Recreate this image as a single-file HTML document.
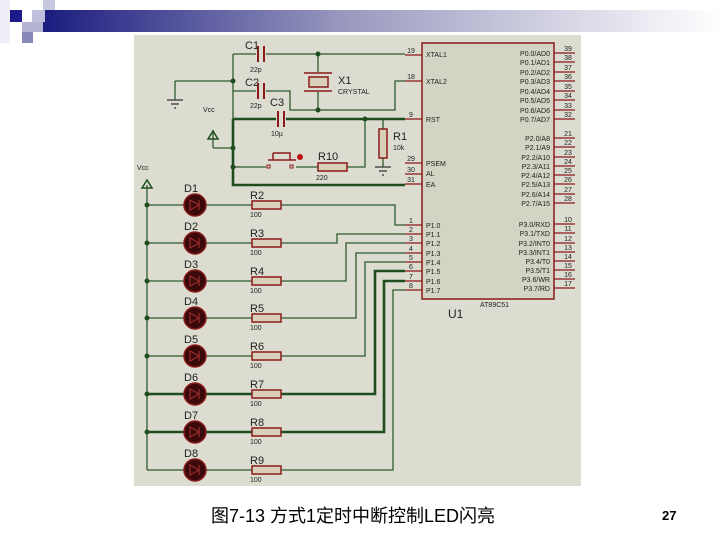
<!DOCTYPE html>
<html><head><meta charset="utf-8"><style>
html,body{margin:0;padding:0;background:#fff;width:720px;height:540px;overflow:hidden}
svg{display:block}
text{font-family:"Liberation Sans",sans-serif}
</style></head><body>
<svg width="720" height="540" viewBox="0 0 720 540" xmlns="http://www.w3.org/2000/svg">
<defs>
<linearGradient id="g" x1="0" x2="1" y1="0" y2="0">
<stop offset="0" stop-color="#1c1c80"/><stop offset="0.45" stop-color="#9a9ac0"/><stop offset="1" stop-color="#ffffff"/>
</linearGradient>
<g id="row"><circle cx="195" cy="0" r="11" fill="#3a0a0a" stroke="#8b1a1a" stroke-width="1.5"/><path d="M190 -5V5L199 0Z M199 -5V5" fill="none" stroke="#a33" stroke-width="1"/><rect x="252" y="-4" width="29" height="8" fill="#d8d0b8" stroke="#8b1a1a" stroke-width="1.5"/></g>
</defs>
<rect x="0" y="0" width="10" height="43" fill="#eeeef6"/>
<rect x="43" y="0" width="12" height="10" fill="#c8c8e0"/>
<rect x="43" y="10" width="677" height="22" fill="url(#g)"/>
<rect x="10" y="10" width="12" height="12" fill="#1a1a88"/>
<rect x="32" y="10" width="13" height="12" fill="#c0c0dc"/>
<rect x="22" y="22" width="21" height="10" fill="#b4b4d4"/>
<rect x="22" y="32" width="11" height="11" fill="#8888b8"/>

<rect x="134" y="35" width="447" height="451" fill="#dcdcd0"/>
<g fill="none" stroke="#2d5a2d" stroke-width="1.3">
<path d="M233 54H405M233 54V119M175 81H233M175 81V100M233 91H290V110H395V81H405"/>
<path d="M318 54V110"/>
<path d="M383 119V167M233 167H365V119M213 148H233M213 148V130"/>
<path d="M147 185V470"/>
<path d="M147 205H395V225H405M147 243H337V234H405M147 281H346V243H405M147 318H356V253H405M147 356H365V262H405M147 470H393V290H405"/>
</g>
<g fill="none" stroke="#1e4e1e" stroke-width="2.6">
<path d="M233 119H405M233 119V185H405M147 394H375V271H405M147 432H384V281H405"/>
</g>
<g fill="#1e4e1e"><circle cx="318" cy="54" r="2.5"/><circle cx="318" cy="110" r="2.5"/><circle cx="233" cy="81" r="2.5"/><circle cx="233" cy="148" r="2.5"/><circle cx="233" cy="167" r="2.5"/><circle cx="365" cy="119" r="2.5"/>
<circle cx="147" cy="205" r="2.5"/><circle cx="147" cy="243" r="2.5"/><circle cx="147" cy="281" r="2.5"/><circle cx="147" cy="318" r="2.5"/><circle cx="147" cy="356" r="2.5"/><circle cx="147" cy="394" r="2.5"/><circle cx="147" cy="432" r="2.5"/></g>
<rect x="256" y="50" width="10" height="8" fill="#dcdcd0"/><rect x="256" y="87" width="10" height="8" fill="#dcdcd0"/><rect x="276" y="115" width="10" height="8" fill="#dcdcd0"/>
<g stroke="#8b1a1a" stroke-width="2"><path d="M258 46V62M264 46V62M258 83V99M264 83V99M278 111V127M284 111V127"/></g>
<rect x="306" y="72" width="26" height="20" fill="#dcdcd0"/>
<path d="M304 73H332M304 91H332" stroke="#8b1a1a" stroke-width="1.5"/>
<rect x="309" y="77" width="19" height="10" fill="#d8d0b8" stroke="#8b1a1a" stroke-width="1.5"/>
<path d="M167 100H183M171 104H179M174 108H176M375 167H391M379 171H387M382 175H384" stroke="#333" stroke-width="1.2"/>
<path d="M213 131L208 139H218Z M147 180L142 188H152Z" fill="none" stroke="#1e4e1e" stroke-width="1.5"/>
<rect x="379" y="129" width="8" height="29" fill="#d8d0b8" stroke="#8b1a1a" stroke-width="1.5"/>
<rect x="266" y="160" width="30" height="12" fill="#dcdcd0"/>
<path d="M273 153H290V160M273 153V160M268 160H296" fill="none" stroke="#8b1a1a" stroke-width="1.5"/>
<rect x="267" y="165" width="3" height="3" fill="none" stroke="#8b1a1a"/><rect x="290" y="165" width="3" height="3" fill="none" stroke="#8b1a1a"/>
<circle cx="300" cy="157" r="3" fill="#c01010"/>
<rect x="318" y="163" width="29" height="8" fill="#d8d0b8" stroke="#8b1a1a" stroke-width="1.5"/>
<use href="#row" y="205"/><use href="#row" y="243"/><use href="#row" y="281"/><use href="#row" y="318"/><use href="#row" y="356"/><use href="#row" y="394"/><use href="#row" y="432"/><use href="#row" y="470"/>
<rect x="422" y="43" width="132" height="256" fill="#d4d4c4" stroke="#8b1a1a" stroke-width="1.5"/>
<g stroke="#8b1a1a" stroke-width="1.2">
<path d="M405 55H422M405 81H422M405 119H422M405 163H422M405 174H422M405 184H422"/>
<path d="M405 225H422M405 234H422M405 243H422M405 253H422M405 262H422M405 271H422M405 281H422M405 290H422"/>
<path d="M554 53H575M554 62H575M554 72H575M554 81H575M554 91H575M554 100H575M554 110H575M554 119H575"/>
<path d="M554 138H575M554 147H575M554 157H575M554 166H575M554 175H575M554 184H575M554 194H575M554 203H575"/>
<path d="M554 224H575M554 233H575M554 243H575M554 252H575M554 261H575M554 270H575M554 279H575M554 288H575"/>
</g>
<g font-size="7" fill="#222">
<text x="426" y="57">XTAL1</text><text x="426" y="84">XTAL2</text><text x="426" y="122">RST</text>
<text x="426" y="166">PSEM</text><text x="426" y="176">AL</text><text x="426" y="187">EA</text>
<text x="426" y="228">P1.0</text><text x="426" y="237">P1.1</text><text x="426" y="246">P1.2</text><text x="426" y="256">P1.3</text><text x="426" y="265">P1.4</text><text x="426" y="274">P1.5</text><text x="426" y="284">P1.6</text><text x="426" y="293">P1.7</text>
<g text-anchor="end"><text x="550" y="56">P0.0/AD0</text><text x="550" y="65">P0.1/AD1</text><text x="550" y="75">P0.2/AD2</text><text x="550" y="84">P0.3/AD3</text><text x="550" y="94">P0.4/AD4</text><text x="550" y="103">P0.5/AD5</text><text x="550" y="113">P0.6/AD6</text><text x="550" y="122">P0.7/AD7</text>
<text x="550" y="141">P2.0/A8</text><text x="550" y="150">P2.1/A9</text><text x="550" y="160">P2.2/A10</text><text x="550" y="169">P2.3/A11</text><text x="550" y="178">P2.4/A12</text><text x="550" y="187">P2.5/A13</text><text x="550" y="197">P2.6/A14</text><text x="550" y="206">P2.7/A15</text>
<text x="550" y="227">P3.0/RXD</text><text x="550" y="236">P3.1/TXD</text><text x="550" y="246">P3.2/INT0</text><text x="550" y="255">P3.3/INT1</text><text x="550" y="264">P3.4/T0</text><text x="550" y="273">P3.5/T1</text><text x="550" y="282">P3.6/WR</text><text x="550" y="291">P3.7/RD</text></g>
<g text-anchor="middle"><text x="411" y="53">19</text><text x="411" y="79">18</text><text x="411" y="117">9</text><text x="411" y="161">29</text><text x="411" y="172">30</text><text x="411" y="182">31</text>
<text x="411" y="223">1</text><text x="411" y="232">2</text><text x="411" y="241">3</text><text x="411" y="251">4</text><text x="411" y="260">5</text><text x="411" y="269">6</text><text x="411" y="279">7</text><text x="411" y="288">8</text>
<text x="568" y="51">39</text><text x="568" y="60">38</text><text x="568" y="70">37</text><text x="568" y="79">36</text><text x="568" y="89">35</text><text x="568" y="98">34</text><text x="568" y="108">33</text><text x="568" y="117">32</text>
<text x="568" y="136">21</text><text x="568" y="145">22</text><text x="568" y="155">23</text><text x="568" y="164">24</text><text x="568" y="173">25</text><text x="568" y="182">26</text><text x="568" y="192">27</text><text x="568" y="201">28</text>
<text x="568" y="222">10</text><text x="568" y="231">11</text><text x="568" y="241">12</text><text x="568" y="250">13</text><text x="568" y="259">14</text><text x="568" y="268">15</text><text x="568" y="277">16</text><text x="568" y="286">17</text></g>
<text x="480" y="307">AT89C51</text>
<text x="250" y="72">22p</text><text x="250" y="108">22p</text><text x="271" y="136">10µ</text><text x="338" y="94">CRYSTAL</text><text x="393" y="150">10k</text><text x="316" y="180">220</text>
<text x="203" y="112">Vcc</text><text x="137" y="170">Vcc</text>
<text x="250" y="217">100</text><text x="250" y="255">100</text><text x="250" y="293">100</text><text x="250" y="330">100</text><text x="250" y="368">100</text><text x="250" y="406">100</text><text x="250" y="444">100</text><text x="250" y="482">100</text>
</g>
<g font-size="11" fill="#222">
<text x="245" y="49">C1</text><text x="245" y="86">C2</text><text x="270" y="106">C3</text><text x="338" y="84">X1</text><text x="393" y="140">R1</text><text x="318" y="160">R10</text><text x="448" y="318" font-size="12">U1</text>
<text x="184" y="192">D1</text><text x="184" y="230">D2</text><text x="184" y="268">D3</text><text x="184" y="305">D4</text><text x="184" y="343">D5</text><text x="184" y="381">D6</text><text x="184" y="419">D7</text><text x="184" y="457">D8</text>
<text x="250" y="199">R2</text><text x="250" y="237">R3</text><text x="250" y="275">R4</text><text x="250" y="312">R5</text><text x="250" y="350">R6</text><text x="250" y="388">R7</text><text x="250" y="426">R8</text><text x="250" y="464">R9</text>
</g>
<text x="211" y="522" font-size="18" fill="#000" style="font-family:'Liberation Sans','Noto Sans CJK SC',sans-serif">图7-13  方式1定时中断控制LED闪亮</text>
<text x="662" y="520" font-size="13" font-weight="bold" fill="#000">27</text>
</svg>
</body></html>
